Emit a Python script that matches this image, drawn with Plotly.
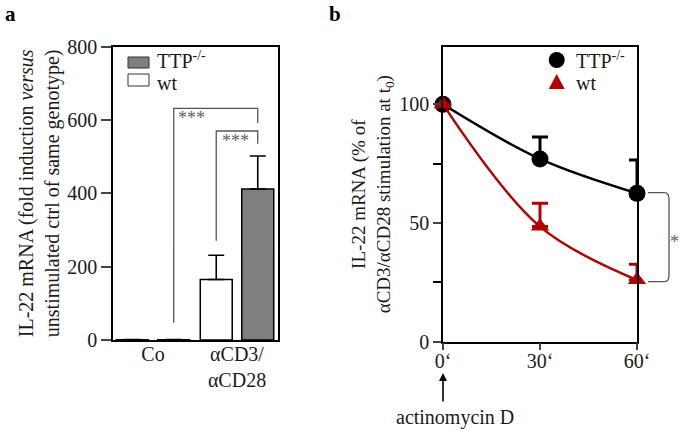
import plotly.graph_objects as go

# ---------------- data ----------------
categories = ["Co", "αCD3/<br>αCD28"]
wt_fold = [1, 165]
wt_fold_err = [0, 66]
ttp_fold = [1, 412]
ttp_fold_err = [0, 90]

time_min = [0, 30, 60]
time_labels = ["0‘", "30‘", "60‘"]
ttp_pct = [100, 77, 62.5]
ttp_pct_err = [0, 9.2, 14.1]
wt_pct = [100, 48.5, 26]
wt_pct_err = [0, 9.8, 6.6]

FONT = "Liberation Serif, Times New Roman, serif"
RED = "#b40000"
GRAY = "#7f7f7f"
TXT = "#1a1a1a"
FS = 20

W, H = 685, 431
def px(x):
    return x / W
def py(y):
    return (H - y) / H

fig = go.Figure()

# ---------------- panel a ----------------
fig.add_trace(go.Bar(
    x=categories, y=wt_fold, name="wt", xaxis="x", yaxis="y",
    marker=dict(color="white", line=dict(color="black", width=1.5)),
    error_y=dict(type="data", array=wt_fold_err, symmetric=False,
                 arrayminus=[0, 0], color="black", thickness=1.6, width=8),
    showlegend=False,
))
fig.add_trace(go.Bar(
    x=categories, y=ttp_fold, name="TTP-/-", xaxis="x", yaxis="y",
    marker=dict(color=GRAY, line=dict(color="black", width=1.5)),
    error_y=dict(type="data", array=ttp_fold_err, symmetric=False,
                 arrayminus=[0, 0], color="black", thickness=1.6, width=8),
    showlegend=False,
))

# ---------------- panel b ----------------
fig.add_trace(go.Scatter(
    x=time_min, y=ttp_pct, name="TTP-/-", xaxis="x2", yaxis="y2",
    mode="lines+markers", line=dict(color="black", width=2.5, shape="spline", smoothing=1.0),
    marker=dict(symbol="circle", size=17, color="black"),
    error_y=dict(type="data", array=ttp_pct_err, symmetric=False,
                 arrayminus=[0, 0, 0], color="black", thickness=3, width=8),
    cliponaxis=False, showlegend=False,
))
fig.add_trace(go.Scatter(
    x=time_min, y=wt_pct, name="wt", xaxis="x2", yaxis="y2",
    mode="lines+markers", line=dict(color=RED, width=2.5, shape="spline", smoothing=1.0),
    marker=dict(symbol="triangle-up", size=16, color=RED),
    error_y=dict(type="data", array=wt_pct_err, symmetric=False,
                 arrayminus=[0, 0, 0], color=RED, thickness=3, width=8),
    cliponaxis=False, showlegend=False,
))

axis_common = dict(
    showline=True, linecolor="black", linewidth=1.5, mirror=True,
    showgrid=False, zeroline=False, automargin=False,
    tickfont=dict(family=FONT, size=FS, color=TXT),
)

fig.update_layout(
    width=W, height=H,
    margin=dict(l=0, r=0, t=0, b=0),
    paper_bgcolor="white", plot_bgcolor="white",
    font=dict(family=FONT, size=FS, color=TXT),
    barmode="group", bargap=0.012, bargroupgap=0.23,
    xaxis=dict(domain=[px(113), px(278)], range=[-0.476, 1.488],
               ticks="", anchor="y", ticklabelstandoff=-5, **axis_common),
    yaxis=dict(domain=[py(340), py(46.7)], range=[0, 800], anchor="x",
               tickvals=[0, 200, 400, 600, 800], ticks="outside", ticklen=10, tickwidth=1.5,
               title=dict(text="IL-22 mRNA (fold induction <i>versus</i><br>unstimulated ctrl of same genotype)",
                          font=dict(family=FONT, size=FS, color=TXT), standoff=2),
               **axis_common),
    xaxis2=dict(domain=[px(443), px(637)], range=[0, 60], anchor="y2",
                tickvals=time_min, ticktext=time_labels, ticks="outside", ticklen=7, tickwidth=1.5,
                ticklabelstandoff=-6, **axis_common),
    yaxis2=dict(domain=[py(341.7), py(46.7)], range=[0, 124.3], anchor="x2",
                tickvals=[0, 50, 100], ticks="outside", ticklen=8, tickwidth=1.5,
                minor=dict(tickvals=[25, 75], ticks="outside", ticklen=8, tickwidth=1.5, tickcolor="black"),
                title=dict(text="IL-22 mRNA (% of<br>αCD3/αCD28 stimulation at t<sub>0</sub>)",
                           font=dict(family=FONT, size=19, color=TXT), standoff=4),
                **axis_common),
)

shapes = []
BR = dict(color="#555555", width=1.3)
off = 0.247
# significance brackets panel a
shapes.append(dict(type="path", xref="x", yref="y", line=BR,
                   path=f"M {0+off},47 L {0+off},632 L {1+off},632 L {1+off},592"))
shapes.append(dict(type="path", xref="x", yref="y", line=BR,
                   path=f"M {1-off},271 L {1-off},570 L {1+off},570 L {1+off},535"))
# legend panel a
shapes.append(dict(type="rect", xref="paper", yref="paper", x0=px(128), x1=px(149), y0=py(68), y1=py(57),
                   fillcolor=GRAY, line=dict(color="#333333", width=1)))
shapes.append(dict(type="rect", xref="paper", yref="paper", x0=px(128), x1=px(149), y0=py(86), y1=py(74),
                   fillcolor="white", line=dict(color="#333333", width=1)))
# significance bracket panel b
shapes.append(dict(type="path", xref="x2 domain", yref="y2", line=BR,
                   path="M 1.057,62.8 L 1.14,62.8 Q 1.165,62.8 1.165,60 L 1.165,28 Q 1.165,25.3 1.14,25.3 L 1.057,25.3"))
# legend panel b
shapes.append(dict(type="circle", xref="paper", yref="paper", xsizemode="pixel", ysizemode="pixel",
                   xanchor=px(556.7), yanchor=py(60), x0=-8, x1=8, y0=-8, y1=8,
                   fillcolor="black", line=dict(color="black", width=0)))
shapes.append(dict(type="path", xref="paper", yref="paper", xsizemode="pixel", ysizemode="pixel",
                   xanchor=px(556.7), yanchor=py(82), path="M -8,-7 L 8,-7 L 0,8 Z",
                   fillcolor=RED, line=dict(color=RED, width=0)))
fig.update_layout(shapes=shapes)

ann = []
star_font = dict(family=FONT, size=18, color="#606060")
ann.append(dict(text="***", xref="x", yref="y", x=0.458, y=605, showarrow=False, font=star_font))
ann.append(dict(text="***", xref="x", yref="y", x=0.988, y=542, showarrow=False, font=star_font))
ann.append(dict(text="*", xref="x2 domain", yref="y2", x=1.225, y=42, showarrow=False, font=star_font))
leg_font = dict(family=FONT, size=FS, color=TXT)
ann.append(dict(text="TTP<sup>-/-</sup>", xref="paper", yref="paper", x=px(155), y=py(60),
                xanchor="left", yanchor="middle", showarrow=False, font=leg_font))
ann.append(dict(text="wt", xref="paper", yref="paper", x=px(155), y=py(83),
                xanchor="left", yanchor="middle", showarrow=False, font=leg_font))
ann.append(dict(text="TTP<sup>-/-</sup>", xref="paper", yref="paper", x=px(574), y=py(60),
                xanchor="left", yanchor="middle", showarrow=False, font=leg_font))
ann.append(dict(text="wt", xref="paper", yref="paper", x=px(574), y=py(83),
                xanchor="left", yanchor="middle", showarrow=False, font=leg_font))
# arrow + actinomycin D
ann.append(dict(text="", xref="x2", yref="paper", x=0, y=py(373), ax=0, ay=30,
                showarrow=True, arrowhead=2, arrowsize=1, arrowwidth=1.6, arrowcolor="black"))
ann.append(dict(text="actinomycin D", xref="paper", yref="paper", x=px(455), y=py(417),
                xanchor="center", yanchor="middle", showarrow=False, font=leg_font))
# panel letters
ann.append(dict(text="<b>a</b>", xref="paper", yref="paper", x=px(3), y=py(14),
                xanchor="left", yanchor="middle", showarrow=False,
                font=dict(family=FONT, size=21, color="black")))
ann.append(dict(text="<b>b</b>", xref="paper", yref="paper", x=px(327), y=py(14),
                xanchor="left", yanchor="middle", showarrow=False,
                font=dict(family=FONT, size=21, color="black")))
fig.update_layout(annotations=ann)

fig.write_html("out.html", config={"displayModeBar": False},
               post_script="document.body.style.margin='0px';")
